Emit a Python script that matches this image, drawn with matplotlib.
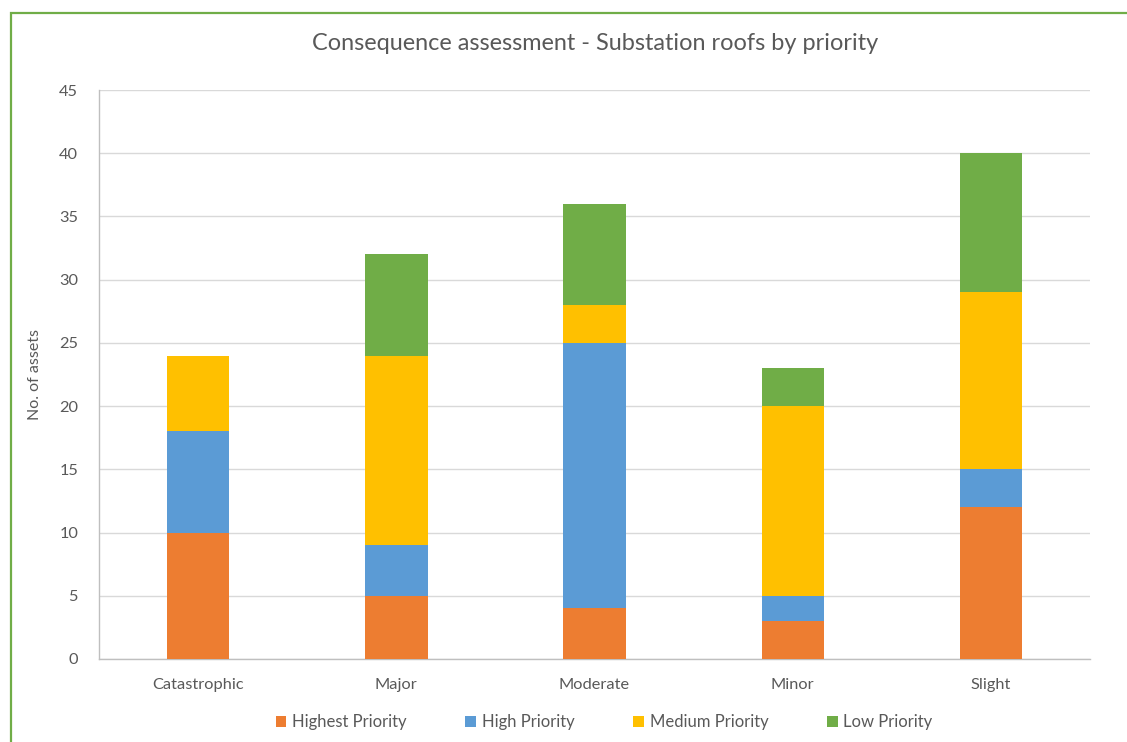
import matplotlib.pyplot as plt
import numpy as np
from matplotlib.patches import Rectangle

# Substation roofs by consequence category, split by priority
categories = ['Catastrophic', 'Major', 'Moderate', 'Minor', 'Slight']
highest = [10, 5, 4, 3, 12]
high = [8, 4, 21, 2, 3]
medium = [6, 15, 3, 15, 14]
low = [0, 8, 8, 3, 11]

series = [
    ('Highest Priority', highest, '#ED7D31'),
    ('High Priority', high, '#5B9BD5'),
    ('Medium Priority', medium, '#FFC000'),
    ('Low Priority', low, '#70AD47'),
]

plt.rcParams['font.family'] = ['Lato', 'DejaVu Sans']
text_color = '#595959'

fig = plt.figure(figsize=(11.27, 7.42), dpi=100)
ax = fig.add_axes([0.0878, 0.1119, 0.8795, 0.7668])

x = np.arange(len(categories))
bottom = np.zeros(len(categories))
for name, vals, color in series:
    ax.bar(x, vals, width=0.315, bottom=bottom, color=color, label=name, zorder=3)
    bottom += np.array(vals)

ax.set_xlim(-0.5, len(categories) - 0.5)
ax.set_ylim(0, 45)
ax.set_yticks(range(0, 46, 5))
ax.set_xticks(x)
ax.set_xticklabels(categories)
ax.tick_params(axis='both', length=0, labelsize=11.8, labelcolor=text_color)
ax.tick_params(axis='x', pad=14)
ax.tick_params(axis='y', pad=15)
ax.grid(axis='y', color='#D9D9D9', linewidth=1, zorder=0)

for side in ['top', 'right']:
    ax.spines[side].set_visible(False)
for side in ['left', 'bottom']:
    ax.spines[side].set_color('#BFBFBF')
    ax.spines[side].set_linewidth(1)

ax.set_ylabel('No. of assets', fontsize=11.5, color=text_color, labelpad=12)
fig.text(0.5285, 0.941, 'Consequence assessment - Substation roofs by priority',
         ha='center', va='center', fontsize=16.9, color=text_color)

leg = fig.legend(loc='center', bbox_to_anchor=(0.536, 0.027), ncol=4, frameon=False,
                 fontsize=12, handlelength=0.65, handleheight=0.65,
                 handletextpad=0.35, columnspacing=3.5)
for t in leg.get_texts():
    t.set_color(text_color)

# green chart-area border along the top and left edges
fig.patches.append(Rectangle((10.5 / 1127, -0.05), 1.2, 1 - 12.5 / 742 + 0.05,
                             transform=fig.transFigure, fill=False,
                             edgecolor='#70AD47', linewidth=1.6))

fig.savefig('out.png', dpi=100)
